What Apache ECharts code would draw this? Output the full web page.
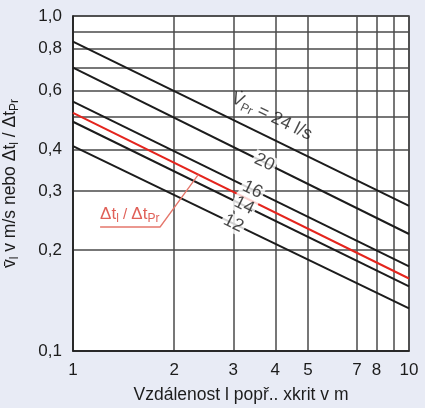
<!DOCTYPE html>
<html>
<head>
<meta charset="utf-8">
<script src="https://cdn.jsdelivr.net/npm/echarts@6/dist/echarts.min.js"></script>
<style>
html, body { margin: 0; padding: 0; background: #e8ebf5; }
#chart { width: 425px; height: 408px; }
</style>
</head>
<body>
<div id="chart"></div>
<script>
// hodnoty přímek na začátku (x = 1) a na konci (x = 10)
var flowNames = ['24', '20', '16', '14', '12'];
var flowStart = [0.838, 0.701, 0.555, 0.4835, 0.409];
var flowEnd = [0.271, 0.2235, 0.179, 0.156, 0.134];
var ratioStart = 0.514;
var ratioEnd = 0.1646;
var xEnds = [1, 10];

var xTickLabels = [1, 2, 3, 4, 5, 7, 8, 10];
var xGridValues = [1, 2, 3, 4, 5, 7, 8, 9, 10];
var yTickLabels = [0.1, 0.2, 0.3, 0.4, 0.6, 0.8, 1.0];
var yGridValues = [0.1, 0.2, 0.3, 0.4, 0.5, 0.6, 0.7, 0.8, 0.9, 1.0];

var FONT = '"Liberation Sans", Arial, sans-serif';

// value of a straight log-log line at x
function lineAt(a, b, x) {
	return a * Math.pow(b / a, Math.log10(x));
}

function showChart(divId) {
	var chart = echarts.init(document.getElementById(divId), null, { renderer: 'canvas' });
	chart.setOption(genOption(), true);
}

function genOption() {
	var series = [];

	flowNames.forEach(function (n, i) {
		series.push({
			name: n,
			type: 'line',
			symbol: 'none',
			z: 3,
			lineStyle: { color: '#1c1c1c', width: 2 },
			data: [[xEnds[0], flowStart[i]], [xEnds[1], flowEnd[i]]]
		});
	});

	series.push({
		name: 'ratio',
		type: 'line',
		symbol: 'none',
		z: 4,
		lineStyle: { color: '#e4241d', width: 2 },
		data: [[xEnds[0], ratioStart], [xEnds[1], ratioEnd]]
	});

	// leader line of the red annotation
	series.push({
		name: 'leader',
		type: 'line',
		symbol: 'none',
		z: 4,
		lineStyle: { color: '#e5776c', width: 1.3 },
		data: [[1.204, 0.2345], [1.816, 0.2345], [2.36, lineAt(ratioStart, ratioEnd, 2.36)]]
	});

	// labels on the lines (white box cuts the lines)
	var labelX = [3.9, 3.71, 3.42, 3.23, 3.0];
	var labelData = flowNames.map(function (n, i) {
		var y = lineAt(flowStart[i], flowEnd[i], labelX[i]);
		if (i === 0) {
			return {
				value: [labelX[i], y * 1.165],
				label: {
					formatter: 'V\u0307{sub|Pr} = 24 l/s',
					backgroundColor: 'transparent'
				}
			};
		}
		return { value: [labelX[i], y], label: { formatter: n } };
	});

	series.push({
		name: 'labels',
		type: 'scatter',
		symbolSize: 0,
		z: 10,
		silent: true,
		data: labelData,
		label: {
			show: true,
			position: 'inside',
			rotate: -26,
			color: '#1c1c1c',
			fontSize: 18,
			fontFamily: FONT,
			backgroundColor: '#ffffff',
			padding: [0, 2],
			rich: {
				sub: { fontSize: 12, fontFamily: FONT, color: '#1c1c1c', padding: [9, 0, 0, 0] }
			}
		}
	});

	series.push({
		name: 'ratioLabel',
		type: 'scatter',
		symbolSize: 0,
		z: 10,
		silent: true,
		data: [[1.204, 0.2345]],
		label: {
			show: true,
			position: [0, -2],
			align: 'left',
			verticalAlign: 'bottom',
			formatter: '\u0394t{sub|l}{sl| / }\u0394t{sub|Pr}',
			color: '#d8382e',
			fontSize: 17,
			fontFamily: FONT,
			rich: {
				sub: { fontSize: 12, fontFamily: FONT, color: '#d8382e', padding: [9, 0, 0, 0] },
				sl: { fontSize: 15, fontFamily: FONT, color: '#d8382e' }
			}
		}
	});

	var option = {
		backgroundColor: '#e8ebf5',
		animation: false,
		grid: {
			left: 73,
			right: 16,
			top: 16,
			bottom: 57,
			outerBoundsMode: 'none',
			containLabel: false,
			show: true,
			backgroundColor: '#ffffff',
			borderColor: '#3a3a3a',
			borderWidth: 1.5
		},
		xAxis: {
			type: 'log',
			logBase: 10,
			min: 1,
			max: 10,
			name: 'Vzdálenost l popř.. xkrit v m',
			nameLocation: 'middle',
			nameGap: 35,
			nameTextStyle: { color: '#1c1c1c', fontSize: 17.5, fontFamily: FONT },
			axisLine: { show: true, onZero: false, lineStyle: { color: '#1c1c1c', width: 1.5 } },
			axisTick: { show: false, customValues: xGridValues },
			axisLabel: {
				customValues: xTickLabels,
				color: '#1c1c1c',
				fontSize: 17,
				fontFamily: FONT,
				margin: 11
			},
			splitLine: { show: true, lineStyle: { color: '#4a4a4a', width: 1.5 } },
			minorTick: { show: false },
			minorSplitLine: { show: false }
		},
		yAxis: {
			type: 'log',
			logBase: 10,
			min: 0.1,
			max: 1,
			name: 'v\u0304{sub|l} v m/s nebo \u0394t{sub|l} / \u0394t{sub|Pr}',
			nameLocation: 'middle',
			nameGap: 52,
			nameTextStyle: {
				color: '#1c1c1c',
				fontSize: 17.5,
				fontFamily: FONT,
				rich: {
					sub: { fontSize: 12, fontFamily: FONT, color: '#1c1c1c', padding: [9, 0, 0, 0] }
				}
			},
			axisLine: { show: true, onZero: false, lineStyle: { color: '#1c1c1c', width: 1.5 } },
			axisTick: { show: false, customValues: yGridValues },
			axisLabel: {
				customValues: yTickLabels,
				color: '#1c1c1c',
				fontSize: 17,
				fontFamily: FONT,
				margin: 11,
				formatter: function (v) {
					return Number(v).toFixed(1).replace('.', ',');
				}
			},
			splitLine: { show: true, lineStyle: { color: '#4a4a4a', width: 1.5 } },
			minorTick: { show: false },
			minorSplitLine: { show: false }
		},
		series: series
	};

	return option;
}

showChart('chart');
</script>
</body>
</html>
